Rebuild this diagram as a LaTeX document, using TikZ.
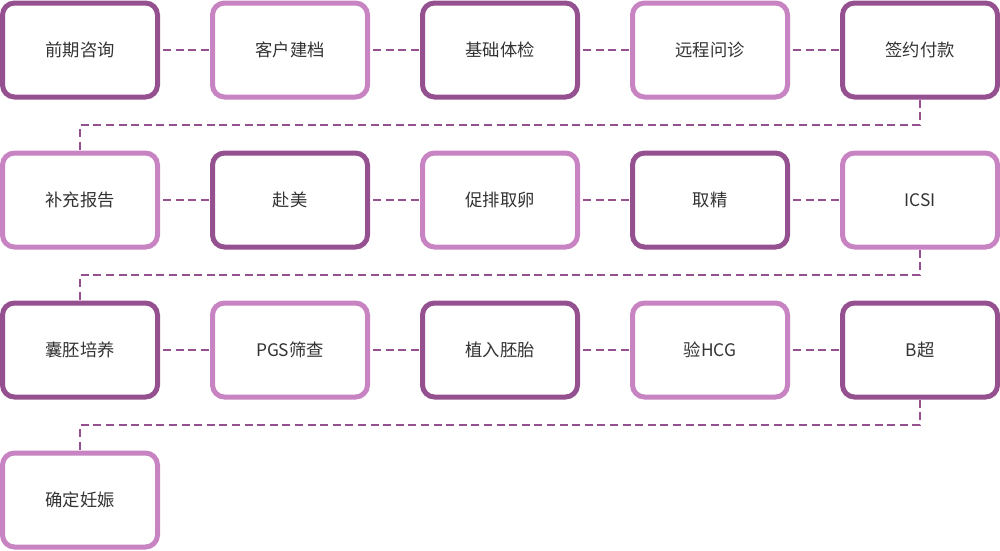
\documentclass[tikz,border=0pt]{standalone}
\usepackage{fontspec}
\newfontfamily\cjk{Noto Sans CJK SC}
\definecolor{darkp}{HTML}{955090}
\definecolor{lightp}{HTML}{C883C2}
\definecolor{txt}{HTML}{333333}
\begin{document}
\begin{tikzpicture}[x=1pt,y=-1pt,
  box/.style={draw, rounded corners=12pt, line width=5pt, minimum width=155pt, minimum height=94pt, fill=white, text=txt, font=\cjk\fontsize{17.3}{19}\selectfont, inner sep=0pt},
  dk/.style={box, draw=darkp},
  lt/.style={box, draw=lightp},
  conn/.style={draw=darkp, line width=2pt, dash pattern=on 8pt off 4.6pt}]
\useasboundingbox (0,0) rectangle (1000,550);
% row 1
\node[dk] (a1) at (80,50) {前期咨询};
\node[lt] (a2) at (290,50) {客户建档};
\node[dk] (a3) at (500,50) {基础体检};
\node[lt] (a4) at (710,50) {远程问诊};
\node[dk] (a5) at (920,50) {签约付款};
% row 2
\node[lt] (b1) at (80,200) {补充报告};
\node[dk] (b2) at (290,200) {赴美};
\node[lt] (b3) at (500,200) {促排取卵};
\node[dk] (b4) at (710,200) {取精};
\node[lt] (b5) at (920,200) {ICSI};
% row 3
\node[dk] (c1) at (80,350) {囊胚培养};
\node[lt] (c2) at (290,350) {PGS筛查};
\node[dk] (c3) at (500,350) {植入胚胎};
\node[lt] (c4) at (710,350) {验HCG};
\node[dk] (c5) at (920,350) {B超};
% row 4
\node[lt] (d1) at (80,500) {确定妊娠};
% connectors
\coordinate (m1) at (500,125);
\coordinate (m2) at (500,275);
\coordinate (m3) at (500,425);
\foreach \r in {a,b,c}{
  \draw[conn] ([xshift=3pt]\r1.east) -- (\r2.west);
  \draw[conn] ([xshift=3pt]\r2.east) -- (\r3.west);
  \draw[conn] ([xshift=3pt]\r3.east) -- (\r4.west);
  \draw[conn] ([xshift=3pt]\r4.east) -- (\r5.west);
}
\draw[conn] (a5.south) -- (a5.south |- m1) -| (b1.north);
\draw[conn] (b5.south) -- (b5.south |- m2) -| (c1.north);
\draw[conn] (c5.south) -- (c5.south |- m3) -| (d1.north);
\end{tikzpicture}
\end{document}
